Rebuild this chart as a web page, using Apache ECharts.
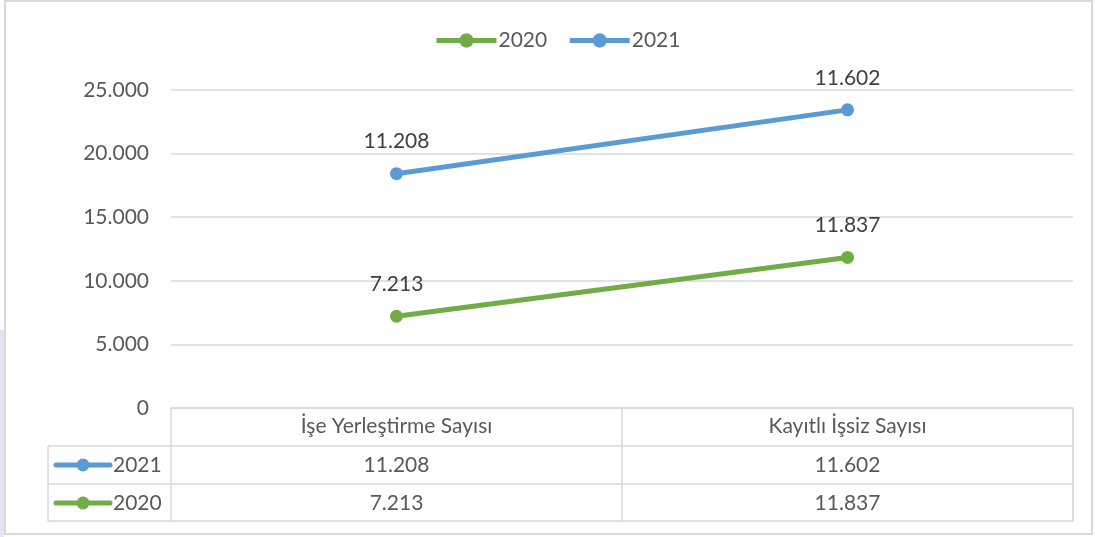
<!DOCTYPE html>
<html>
<head>
<meta charset="utf-8">
<script src="https://cdn.jsdelivr.net/npm/echarts@6/dist/echarts.min.js"></script>
<style>
  html, body { margin: 0; padding: 0; background: #fff; }
  #chart { width: 1095px; height: 537px; }
</style>
</head>
<body>
<div id="chart"></div>
<script>
// kategoriler ve seriler
const categories = ["İşe Yerleştirme Sayısı", "Kayıtlı İşsiz Sayısı"];
const values2020 = [7213, 11837];
const values2021 = [11208, 11602];
const yTicks = [0, 5000, 10000, 15000, 20000, 25000];

const GREEN = "#70ad47";
const BLUE = "#5b9bd5";
const GRID_LINE = "#d9d9d9";
const TEXT = "#595959";
const FONT = "Lato";

// 11208 -> "11.208"
const fmt = (v) => String(v).replace(/\B(?=(\d{3})+(?!\d))/g, ".");

// tablo satırları için yardımcı eksen
const rowAxis = (offset, values) => ({
  type: "category",
  data: categories,
  position: "bottom",
  offset: offset,
  axisLine: { show: false },
  axisTick: { show: false },
  axisLabel: {
    color: TEXT, fontSize: 21, fontFamily: FONT, margin: 9,
    formatter: (v, i) => fmt(values[i])
  }
});

// satır başlığındaki lejant simgesi
const legendKey = (y, color, label) => ({
  type: "group",
  children: [
    { type: "line", shape: { x1: 56, y1: y, x2: 110, y2: y }, style: { stroke: color, lineWidth: 5, lineCap: "round" } },
    { type: "circle", shape: { cx: 83, cy: y, r: 6.5 }, style: { fill: color } },
    { type: "text", x: 113, y: y, style: { text: label, fill: TEXT, fontSize: 21, fontFamily: FONT, verticalAlign: "middle" } }
  ]
});

const hLine = (y, x1, x2) => ({ type: "line", shape: { x1: x1, y1: y, x2: x2, y2: y }, style: { stroke: GRID_LINE, lineWidth: 1.5 } });
const vLine = (x, y1, y2) => ({ type: "line", shape: { x1: x, y1: y1, x2: x, y2: y2 }, style: { stroke: GRID_LINE, lineWidth: 1.5 } });

const labelStyle = {
  show: true, position: "top", distance: 15,
  color: "#404040", fontSize: 21, fontFamily: FONT,
  formatter: (p) => fmt(p.value)
};

const chart = echarts.init(document.getElementById("chart"));
chart.setOption({
  backgroundColor: "#fff",
  animation: false,
  textStyle: { fontFamily: FONT },
  legend: {
    data: ["2020", "2021"],
    top: 25,
    left: 429,
    itemWidth: 60,
    itemHeight: 18,
    itemGap: 20,
    lineStyle: { width: 5 },
    textStyle: { color: TEXT, fontSize: 21, fontFamily: FONT, padding: [0, 0, 0, -3] }
  },
  grid: { left: 171, right: 22, top: 90, bottom: 129 },
  xAxis: [
    {
      type: "category",
      data: categories,
      boundaryGap: true,
      axisLine: { show: true, lineStyle: { color: GRID_LINE, width: 1.5 } },
      axisTick: { show: true, length: 113, lineStyle: { color: GRID_LINE, width: 1.5 } },
      axisLabel: { color: TEXT, fontSize: 21, fontFamily: FONT, margin: 8 }
    },
    rowAxis(38, values2021),
    rowAxis(76, values2020)
  ],
  yAxis: {
    type: "value",
    min: yTicks[0],
    max: yTicks[yTicks.length - 1],
    interval: 5000,
    axisLine: { show: false },
    axisTick: { show: false },
    splitLine: { lineStyle: { color: GRID_LINE, width: 1.5 } },
    axisLabel: { color: TEXT, fontSize: 21, fontFamily: FONT, margin: 22, formatter: (v) => fmt(v) }
  },
  series: [
    {
      name: "2020", type: "line", stack: "toplam", data: values2020,
      symbol: "circle", symbolSize: 13,
      itemStyle: { color: GREEN },
      lineStyle: { color: GREEN, width: 5 },
      label: labelStyle
    },
    {
      name: "2021", type: "line", stack: "toplam", data: values2021,
      symbol: "circle", symbolSize: 13,
      itemStyle: { color: BLUE },
      lineStyle: { color: BLUE, width: 5 },
      label: labelStyle
    }
  ],
  graphic: [
    // dış çerçeve ve soldaki şerit
    { type: "rect", shape: { x: 0, y: 330, width: 4, height: 207 }, style: { fill: "#e4e4f4" } },
    { type: "rect", shape: { x: 5, y: 1, width: 1087, height: 533 }, style: { fill: "none", stroke: GRID_LINE, lineWidth: 2 } },
    // veri tablosu çizgileri
    hLine(446, 48, 1073),
    hLine(484, 48, 1073),
    hLine(521, 48, 1073),
    vLine(48, 446, 521),
    vLine(1073, 408, 521),
    legendKey(465, BLUE, "2021"),
    legendKey(503, GREEN, "2020")
  ]
});
</script>
</body>
</html>
